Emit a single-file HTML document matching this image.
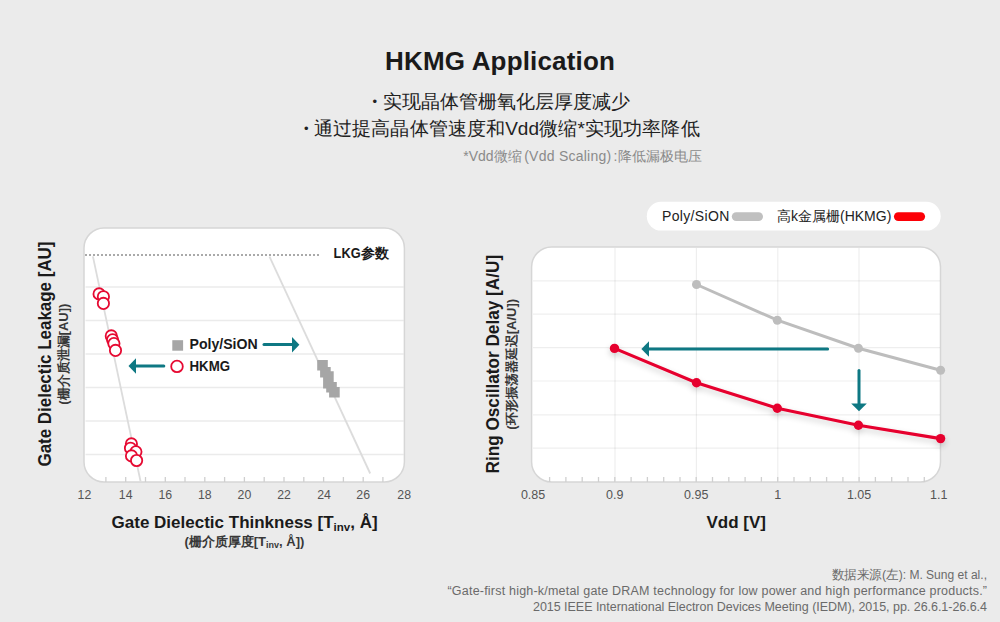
<!DOCTYPE html>
<html><head><meta charset="utf-8">
<style>
html,body{margin:0;padding:0;background:#ebebeb;}
body{width:1000px;height:622px;overflow:hidden;font-family:"Liberation Sans",sans-serif;}
svg{display:block;font-family:"Liberation Sans",sans-serif;}
</style></head>
<body>
<svg width="1000" height="622" viewBox="0 0 1000 622">
<rect x="0" y="0" width="1000" height="622" fill="#ebebeb"/>
<!-- Title -->
<text x="500" y="70.4" text-anchor="middle" font-size="26" font-weight="bold" fill="#1a1a1a" textLength="229.8">HKMG Application</text>
<text y="107.8" font-size="19" fill="#222"><tspan x="372.6" font-size="13" dy="-2.2">•</tspan><tspan x="383.4" dy="2.2" textLength="247" lengthAdjust="spacingAndGlyphs">实现晶体管栅氧化层厚度减少</tspan></text>
<text y="134.8" font-size="19" fill="#222"><tspan x="304" font-size="13" dy="-2.2">•</tspan><tspan x="314" dy="2.2" textLength="191" lengthAdjust="spacingAndGlyphs">通过提高晶体管速度和</tspan><tspan x="505.2">Vdd</tspan><tspan x="539.3" textLength="38.2" lengthAdjust="spacingAndGlyphs">微缩</tspan><tspan x="577.5">*</tspan><tspan x="585" textLength="114.6" lengthAdjust="spacingAndGlyphs">实现功率降低</tspan></text>
<text x="463.3" y="160.5" font-size="14" fill="#8a8a8a">*Vdd<tspan x="493.8" textLength="28" lengthAdjust="spacingAndGlyphs">微缩</tspan><tspan x="524.2" textLength="87">(Vdd Scaling)</tspan><tspan x="613.4">:</tspan><tspan x="617.6" textLength="84" lengthAdjust="spacingAndGlyphs">降低漏极电压</tspan></text>

<!-- LEFT CHART -->
<rect x="84" y="228" width="320.4" height="254" rx="20" ry="20" fill="#fff" stroke="#d6d6d6" stroke-width="1.5"/>
<g stroke="#000" stroke-opacity="0.08" stroke-width="1.3">
<line x1="85.5" y1="287" x2="403.5" y2="287"/>
<line x1="85.5" y1="320.5" x2="403.5" y2="320.5"/>
<line x1="85.5" y1="354" x2="403.5" y2="354"/>
<line x1="85.5" y1="387.5" x2="403.5" y2="387.5"/>
<line x1="85.5" y1="421" x2="403.5" y2="421"/>
<line x1="85.5" y1="454.5" x2="403.5" y2="454.5"/>
</g>
<line x1="85" y1="255" x2="320" y2="255" stroke="#aaa" stroke-width="2" stroke-dasharray="2 2"/>
<text x="333.6" y="258.3" font-size="14.6" font-weight="bold" fill="#1a1a1a"><tspan textLength="27" lengthAdjust="spacingAndGlyphs">LKG</tspan><tspan x="360.6" font-size="14" textLength="28" lengthAdjust="spacingAndGlyphs">参数</tspan></text>
<!-- ticks -->
<g stroke="#cfcfcf" stroke-width="1.3">
<line x1="105.9" y1="477" x2="105.9" y2="482"/>
<line x1="125.7" y1="477" x2="125.7" y2="482"/>
<line x1="145.5" y1="477" x2="145.5" y2="482"/>
<line x1="165.3" y1="477" x2="165.3" y2="482"/>
<line x1="185.0" y1="477" x2="185.0" y2="482"/>
<line x1="204.8" y1="477" x2="204.8" y2="482"/>
<line x1="224.6" y1="477" x2="224.6" y2="482"/>
<line x1="244.4" y1="477" x2="244.4" y2="482"/>
<line x1="264.2" y1="477" x2="264.2" y2="482"/>
<line x1="284.0" y1="477" x2="284.0" y2="482"/>
<line x1="303.8" y1="477" x2="303.8" y2="482"/>
<line x1="323.6" y1="477" x2="323.6" y2="482"/>
<line x1="343.4" y1="477" x2="343.4" y2="482"/>
<line x1="363.2" y1="477" x2="363.2" y2="482"/>
<line x1="382.9" y1="477" x2="382.9" y2="482"/>
</g>
<g font-size="12.3" fill="#555" text-anchor="middle">
<text x="84.4" y="498.8">12</text>
<text x="125.7" y="498.8">14</text>
<text x="165.3" y="498.8">16</text>
<text x="204.8" y="498.8">18</text>
<text x="244.4" y="498.8">20</text>
<text x="284.0" y="498.8">22</text>
<text x="324" y="498.8">24</text>
<text x="363.2" y="498.8">26</text>
<text x="404.2" y="498.8">28</text>
</g>
<!-- trend lines -->
<g stroke="#dcdcdc" stroke-width="1.8">
<line x1="92.9" y1="256.4" x2="140.6" y2="481.5"/>
<line x1="269.5" y1="256.6" x2="370.2" y2="473.5"/>
</g>
<!-- HKMG circles -->
<g fill="#fff" stroke="#e60a32" stroke-width="1.8">
<circle cx="99.1" cy="293.9" r="5.65"/>
<circle cx="103.4" cy="296.7" r="5.65"/>
<circle cx="103.4" cy="303.4" r="5.65"/>
<circle cx="111.3" cy="335.9" r="5.65"/>
<circle cx="112.6" cy="339.8" r="5.65"/>
<circle cx="113.9" cy="343.6" r="5.65"/>
<circle cx="115.5" cy="350.4" r="5.65"/>
<circle cx="131.4" cy="443.9" r="5.65"/>
<circle cx="130.5" cy="448.2" r="5.65"/>
<circle cx="135.9" cy="451.8" r="5.65"/>
<circle cx="131.5" cy="455.9" r="5.65"/>
<circle cx="136.6" cy="460.5" r="5.65"/>
</g>
<!-- Poly squares -->
<path fill="#a6a6a6" d="M317.2 360.0h10.6v10.6h-10.6z M320.1 367.0h10.6v10.6h-10.6z M323.1 371.2h10.6v10.6h-10.6z M323.1 378.0h10.6v10.6h-10.6z M326.2 382.0h10.6v10.6h-10.6z M329.1 387.0h10.6v10.6h-10.6z"/>
<!-- legend -->
<rect x="172.3" y="340.2" width="10.8" height="10.5" fill="#a6a6a6"/>
<text x="189.5" y="349.2" font-size="14" font-weight="bold" fill="#1a1a1a" textLength="68.2" lengthAdjust="spacingAndGlyphs">Poly/SiON</text>
<line x1="264" y1="344.6" x2="293" y2="344.6" stroke="#0e7883" stroke-width="3" stroke-linecap="round"/>
<path d="M292 336.9 L299.4 344.7 L292 352.6 Z" fill="#0e7883"/>
<circle cx="177" cy="366.4" r="5.8" fill="#fff" stroke="#e60a32" stroke-width="1.8"/>
<text x="189.5" y="371.3" font-size="14" font-weight="bold" fill="#1a1a1a" textLength="40.6" lengthAdjust="spacingAndGlyphs">HKMG</text>
<line x1="135" y1="366" x2="163.8" y2="366" stroke="#0e7883" stroke-width="3" stroke-linecap="round"/>
<path d="M136 358.2 L128.5 366 L136 373.8 Z" fill="#0e7883"/>
<!-- axis labels -->
<text transform="translate(51.1,354) rotate(-90)" text-anchor="middle" font-size="17.5" font-weight="bold" fill="#1a1a1a" textLength="225" lengthAdjust="spacingAndGlyphs">Gate Dielectic Leakage [AU]</text>
<text transform="translate(68.4,354.2) rotate(-90)" text-anchor="middle" font-size="13" font-weight="bold" fill="#383838">(<tspan textLength="65" lengthAdjust="spacingAndGlyphs">栅介质泄漏</tspan>[AU])</text>
<text x="244.6" y="528.2" text-anchor="middle" font-size="17" font-weight="bold" fill="#1a1a1a">Gate Dielectic Thinkness [T<tspan font-size="11.5" dy="3">inv</tspan><tspan dy="-3">, Å]</tspan></text>
<text x="244.4" y="545.5" text-anchor="middle" font-size="13" font-weight="bold" fill="#383838">(<tspan textLength="65" lengthAdjust="spacingAndGlyphs">栅介质厚度</tspan>[T<tspan font-size="9" dy="2">inv</tspan><tspan dy="-2">, Å])</tspan></text>

<!-- RIGHT CHART -->
<rect x="646.8" y="201.8" width="293.9" height="28.8" rx="14.4" ry="14.4" fill="#fff"/>
<text x="662" y="221.3" font-size="14" fill="#222" textLength="67.3">Poly/SiON</text>
<rect x="731.8" y="212.2" width="31.2" height="8.8" rx="4.4" fill="#c0c0c0"/>
<text x="777" y="221.3" font-size="14" fill="#222"><tspan textLength="14" lengthAdjust="spacingAndGlyphs">高</tspan>k<tspan textLength="42" lengthAdjust="spacingAndGlyphs">金属栅</tspan>(HKMG)</text>
<rect x="893.9" y="212.2" width="31.2" height="8.8" rx="4.4" fill="#fc0007"/>

<rect x="531.6" y="247" width="408.9" height="235" rx="20" ry="20" fill="#fff" stroke="#d6d6d6" stroke-width="1.5"/>
<g stroke="#000" stroke-opacity="0.065" stroke-width="1.2">
<line x1="533" y1="280.9" x2="940" y2="280.9"/>
<line x1="533" y1="314.1" x2="940" y2="314.1"/>
<line x1="533" y1="347.7" x2="940" y2="347.7"/>
<line x1="533" y1="381" x2="940" y2="381"/>
<line x1="533" y1="414.8" x2="940" y2="414.8"/>
<line x1="533" y1="448.2" x2="940" y2="448.2"/>
<line x1="615" y1="248" x2="615" y2="481"/>
<line x1="696.4" y1="248" x2="696.4" y2="481"/>
<line x1="777.8" y1="248" x2="777.8" y2="481"/>
<line x1="859" y1="248" x2="859" y2="481"/>
</g>
<g stroke="#cfcfcf" stroke-width="1.3">
<line x1="549.6" y1="477" x2="549.6" y2="482"/>
<line x1="565.9" y1="477" x2="565.9" y2="482"/>
<line x1="582.2" y1="477" x2="582.2" y2="482"/>
<line x1="598.5" y1="477" x2="598.5" y2="482"/>
<line x1="614.8" y1="477" x2="614.8" y2="482"/>
<line x1="631.1" y1="477" x2="631.1" y2="482"/>
<line x1="647.4" y1="477" x2="647.4" y2="482"/>
<line x1="663.7" y1="477" x2="663.7" y2="482"/>
<line x1="680.0" y1="477" x2="680.0" y2="482"/>
<line x1="696.2" y1="477" x2="696.2" y2="482"/>
<line x1="712.5" y1="477" x2="712.5" y2="482"/>
<line x1="728.8" y1="477" x2="728.8" y2="482"/>
<line x1="745.1" y1="477" x2="745.1" y2="482"/>
<line x1="761.4" y1="477" x2="761.4" y2="482"/>
<line x1="777.7" y1="477" x2="777.7" y2="482"/>
<line x1="794.0" y1="477" x2="794.0" y2="482"/>
<line x1="810.3" y1="477" x2="810.3" y2="482"/>
<line x1="826.6" y1="477" x2="826.6" y2="482"/>
<line x1="842.9" y1="477" x2="842.9" y2="482"/>
<line x1="859.1" y1="477" x2="859.1" y2="482"/>
<line x1="875.4" y1="477" x2="875.4" y2="482"/>
<line x1="891.7" y1="477" x2="891.7" y2="482"/>
<line x1="908.0" y1="477" x2="908.0" y2="482"/>
<line x1="924.3" y1="477" x2="924.3" y2="482"/>
</g>
<g font-size="12.5" fill="#555" text-anchor="middle">
<text x="533.1" y="498.8">0.85</text>
<text x="614.8" y="498.8">0.9</text>
<text x="696.2" y="498.8">0.95</text>
<text x="777.7" y="498.8">1</text>
<text x="859.1" y="498.8">1.05</text>
<text x="938.8" y="498.8">1.1</text>
</g>
<!-- series -->
<polyline points="696.5,284.5 777.3,320.2 858.4,348.2 940.6,370.2" fill="none" stroke="#bdbdbd" stroke-width="3"/>
<g fill="#bdbdbd">
<circle cx="696.5" cy="284.5" r="4.5"/><circle cx="777.3" cy="320.2" r="4.5"/><circle cx="858.4" cy="348.2" r="4.5"/><circle cx="940.6" cy="370.2" r="4.5"/>
</g>
<defs><filter id="sh" x="-10%" y="-50%" width="120%" height="200%"><feGaussianBlur in="SourceAlpha" stdDeviation="3.2"/><feOffset dy="2.5"/><feComponentTransfer><feFuncA type="linear" slope="0.2"/></feComponentTransfer><feMerge><feMergeNode/><feMergeNode in="SourceGraphic"/></feMerge></filter></defs>
<g filter="url(#sh)">
<polyline points="614.5,348.4 696.5,382.7 777.3,408.2 858.4,425.2 940.6,438.6" fill="none" stroke="#e6002e" stroke-width="3.1"/>
<g fill="#e6002e">
<circle cx="614.5" cy="348.4" r="4.7"/><circle cx="696.5" cy="382.7" r="4.7"/><circle cx="777.3" cy="408.2" r="4.7"/><circle cx="858.4" cy="425.2" r="4.7"/><circle cx="940.6" cy="438.6" r="4.7"/>
</g>
</g>
<!-- arrows -->
<line x1="648" y1="349" x2="827.6" y2="349" stroke="#0e7883" stroke-width="3" stroke-linecap="round"/>
<path d="M649 341.2 L641.4 349 L649 356.8 Z" fill="#0e7883"/>
<line x1="859" y1="370.6" x2="859" y2="404.5" stroke="#0e7883" stroke-width="3" stroke-linecap="round"/>
<path d="M851.2 403.6 L859 411.2 L866.8 403.6 Z" fill="#0e7883"/>
<!-- axis labels -->
<text transform="translate(499.3,364.2) rotate(-90)" text-anchor="middle" font-size="17.5" font-weight="bold" fill="#1a1a1a" textLength="218.6" lengthAdjust="spacingAndGlyphs">Ring Oscillator Delay [A/U]</text>
<text transform="translate(516.2,364.3) rotate(-90)" text-anchor="middle" font-size="13" font-weight="bold" fill="#383838">(<tspan textLength="91" lengthAdjust="spacingAndGlyphs">环形振荡器延迟</tspan>[A/U])</text>
<text x="736.2" y="527.8" text-anchor="middle" font-size="17" font-weight="bold" fill="#1a1a1a">Vdd [V]</text>

<!-- source -->
<g font-size="12.5" fill="#6a6a6a" text-anchor="end">
<text x="987" y="579"><tspan textLength="50.5" lengthAdjust="spacingAndGlyphs">数据来源</tspan>(<tspan textLength="12.5" lengthAdjust="spacingAndGlyphs">左</tspan><tspan textLength="88.3" lengthAdjust="spacingAndGlyphs">): M. Sung et al.,</tspan></text>
<text x="987" y="595" textLength="539.5">“Gate-first high-k/metal gate DRAM technology for low power and high performance products.”</text>
<text x="987" y="610.5" textLength="454">2015 IEEE International Electron Devices Meeting (IEDM), 2015, pp. 26.6.1-26.6.4</text>
</g>
</svg>
</body></html>
